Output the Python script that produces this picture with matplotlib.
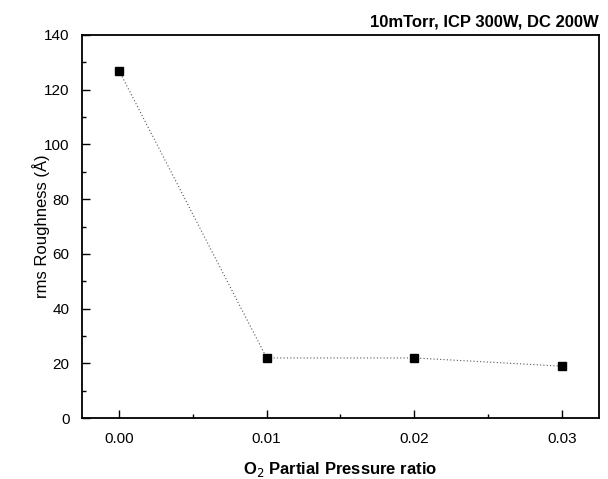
import numpy as np
import matplotlib
matplotlib.use('Agg')
import matplotlib.pyplot as plt
from matplotlib.ticker import MultipleLocator

ratio = [0.00, 0.01, 0.02, 0.03]
roughness = [127, 22, 22, 19]

plt.rcParams['font.family'] = ['Liberation Sans', 'DejaVu Sans']

fig = plt.figure(figsize=(6.08, 4.79), dpi=100)
ax = fig.add_axes([0.135, 0.127, 0.85, 0.8])

ax.plot(ratio, roughness, color='#555555', linestyle=(0, (1, 2)), linewidth=0.8)
ax.plot(ratio, roughness, 's', color='black', markersize=6)

ax.set_xlim(-0.0025, 0.0325)
ax.set_ylim(0, 140)
ax.set_xticks(ratio)
ax.set_xticklabels(['0.00', '0.01', '0.02', '0.03'])
ax.xaxis.set_minor_locator(MultipleLocator(0.005))
ax.yaxis.set_major_locator(MultipleLocator(20))
ax.yaxis.set_minor_locator(MultipleLocator(10))
ax.tick_params(which='both', direction='in', labelsize=11, top=False, right=False)
ax.tick_params(which='major', length=6, width=1)
ax.tick_params(which='minor', length=3, width=1)
ax.tick_params(axis='x', pad=10)
ax.tick_params(axis='y', pad=9)
for s in ax.spines.values():
    s.set_linewidth(1.3)

ax.set_xlabel('O$_2$ Partial Pressure ratio', fontsize=12, fontweight='bold', labelpad=10)
ax.set_ylabel('rms Roughness (Å)', fontsize=12, labelpad=-4)
fig.text(0.984, 0.955, '10mTorr, ICP 300W, DC 200W', ha='right', va='center',
         fontsize=12, fontweight='bold')

fig.savefig('out.png', dpi=100)
